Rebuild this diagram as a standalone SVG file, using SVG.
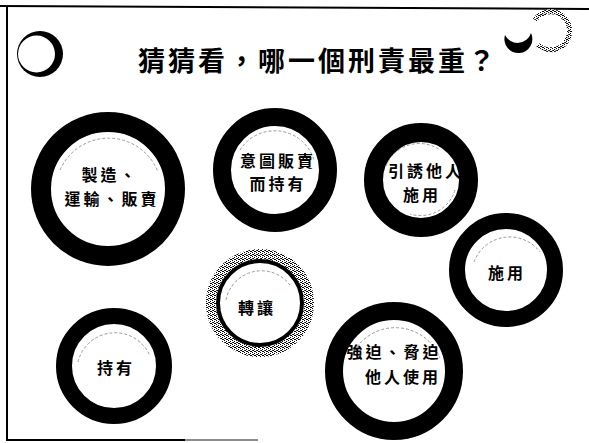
<svg xmlns="http://www.w3.org/2000/svg" width="589" height="443" viewBox="0 0 589 443">
<defs>
<pattern id="speck" width="4" height="4" patternUnits="userSpaceOnUse">
<rect width="4" height="4" fill="#fff"/>
<rect x="0" y="0" width="1" height="1" fill="#000"/>
<rect x="2" y="1" width="1" height="1" fill="#000"/>
<rect x="1" y="2" width="1" height="1" fill="#000"/>
<rect x="3" y="3" width="1" height="1" fill="#000"/>
<rect x="2" y="3" width="1" height="1" fill="#000"/>
<rect x="0" y="2" width="1" height="1" fill="#333"/>
</pattern>
</defs>
<style>
.ring{fill:#fff;stroke:#000}
.hl{fill:none;stroke:#999;stroke-width:1;stroke-dasharray:3 2}
.lbl{font-family:"Noto Sans CJK TC","Noto Sans CJK SC",sans-serif;font-weight:bold;font-size:16px;letter-spacing:3px;text-anchor:middle;fill:#000}
.title{font-family:"Noto Sans CJK TC","Noto Sans CJK SC",sans-serif;font-weight:bold;font-size:27px;letter-spacing:3px;fill:#000}
.frame{stroke:#000;stroke-width:2;fill:none}
</style>
<rect width="589" height="443" fill="#fff"/>
<g id="frame">
<line class="frame" x1="0" y1="6" x2="589" y2="9"/>
<line class="frame" x1="7" y1="6" x2="7" y2="441"/>
<line class="frame" x1="7" y1="440" x2="185" y2="440"/>
<line x1="185" y1="440" x2="258" y2="440" stroke="#666" stroke-width="1.5"/>
</g>
<g id="decor">
<circle cx="40" cy="54" r="23" fill="#000"/>
<circle cx="36.5" cy="54" r="18.5" fill="#fff"/>
<path d="M505,35 A14,14 0 1,0 531,33 A14,14 0 0,1 505,35 Z" fill="#000"/>
<path d="M538,45 A19,19 0 1,0 535,20" fill="none" stroke="url(#speck)" stroke-width="5"/>
<path d="M538,47 A19,19 0 1,0 535,20" fill="none" stroke="#555" stroke-width="1" stroke-dasharray="1 2"/>
</g>
<text class="title" x="138" y="71">猜猜看，哪一個刑責最重？</text>
<g id="n1">
<circle class="ring" cx="108" cy="189" r="67" stroke-width="20"/>
<path class="hl" d="M60,170 A53,53 0 0,1 158,172"/>
<text class="lbl" x="110" y="181">製造、</text>
<text class="lbl" x="112" y="205">運輸、販賣</text>
</g>
<g id="n2">
<circle class="ring" cx="275" cy="170" r="53" stroke-width="18"/>
<path class="hl" d="M240,150 A41,41 0 0,1 314,160"/>
<text class="lbl" x="278" y="167">意圖販賣</text>
<text class="lbl" x="278" y="190">而持有</text>
</g>
<g id="n3">
<circle class="ring" cx="421" cy="180" r="47.5" stroke-width="19"/>
<path class="hl" d="M386,166 A36,36 0 0,1 440,150"/>
<path class="hl" d="M455,190 A36,36 0 0,1 410,214"/>
<text class="lbl" x="426" y="177">引誘他人</text>
<text class="lbl" x="422" y="201">施用</text>
</g>
<g id="n4">
<circle class="ring" cx="506" cy="270" r="49" stroke-width="16"/>
<path class="hl" d="M474,262 A38,38 0 0,1 540,252"/>
<text class="lbl" x="507" y="279">施用</text>
</g>
<g id="n5">
<circle cx="260" cy="303" r="49" fill="none" stroke="url(#speck)" stroke-width="10"/>
<circle class="ring" cx="260" cy="303" r="42" stroke-width="4"/>
<path class="hl" d="M226,300 A36,36 0 0,1 290,285"/>
<text class="lbl" x="257" y="314">轉讓</text>
</g>
<g id="n6">
<circle class="ring" cx="114" cy="366" r="50" stroke-width="16"/>
<path class="hl" d="M78,362 A38,38 0 0,1 150,356"/>
<text class="lbl" x="116" y="374">持有</text>
</g>
<g id="n7">
<circle class="ring" cx="394" cy="371" r="60" stroke-width="18"/>
<path class="hl" d="M350,360 A48,48 0 0,1 440,358"/>
<text class="lbl" x="394" y="358">強迫、脅迫</text>
<text class="lbl" x="403" y="383">他人使用</text>
</g>
<g id="connectors"></g>
</svg>
